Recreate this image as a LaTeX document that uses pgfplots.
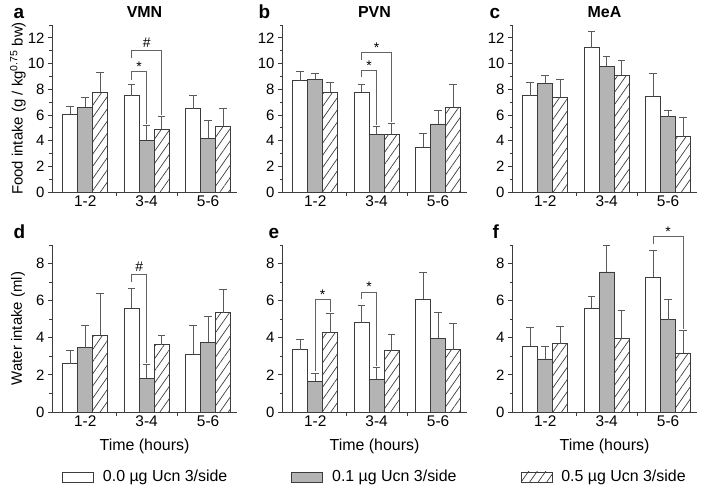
\documentclass[border=0pt]{standalone}
\usepackage{fontspec}
\setmainfont{Liberation Sans}
\usepackage{pgfplots}
\pgfplotsset{compat=1.18}
\usepackage{pgfplotstable}
\usetikzlibrary{patterns.meta}

\definecolor{edge}{RGB}{60,60,60}
\definecolor{barfill}{RGB}{180,180,180}
\definecolor{errc}{RGB}{90,90,90}
\definecolor{brk}{RGB}{100,100,100}

% mean and upper error (SEM) per time bin; w = 0.0, g = 0.1, h = 0.5 ug
\pgfplotstableread{
x w we g ge h he
1 6.05 0.65 6.60 0.78 7.77 1.57
2 7.49 0.91 4.04 1.16 4.88 1.02
3 6.50 0.99 4.17 1.43 5.14 1.36
}\vmnfood
\pgfplotstableread{
x w we g ge h he
1 8.66 0.73 8.79 0.41 7.77 0.76
2 7.77 0.63 4.49 0.65 4.49 0.86
3 3.47 1.10 5.30 1.07 6.60 1.80
}\pvnfood
\pgfplotstableread{
x w we g ge h he
1 7.49 1.04 8.48 0.60 7.36 1.43
2 11.22 1.30 9.78 0.79 9.08 1.15
3 7.44 1.77 5.87 0.52 4.30 1.49
}\meafood
\pgfplotstableread{
x w we g ge h he
1 2.61 0.72 3.47 1.19 4.14 2.24
2 5.58 1.06 1.83 0.74 3.63 0.51
3 3.13 1.53 3.76 1.37 5.36 1.24
}\vmnwater
\pgfplotstableread{
x w we g ge h he
1 3.36 0.56 1.65 0.45 4.28 1.03
2 4.82 0.94 1.76 0.67 3.31 0.88
3 6.08 1.47 3.97 1.41 3.36 1.42
}\pvnwater
\pgfplotstableread{
x w we g ge h he
1 3.56 0.99 2.86 0.65 3.69 0.95
2 5.58 0.66 7.55 1.41 3.96 1.54
3 7.28 1.44 4.98 1.08 3.18 1.22
}\meawater

\pgfplotsset{
  panel/.style={
    scale only axis, width=185bp, height=167bp,
    anchor=south west,
    ybar=0pt, bar width=0.244,
    xmin=0.46, xmax=3.47, ymin=0,
    axis x line*=bottom, axis y line*=left,
    axis line style={edge, line width=0.9bp},
    tick align=outside,
    xtick={1.5,2.5}, xticklabels={},
    extra x ticks={1,2,3}, extra x tick labels={1-2,3-4,5-6},
    extra x tick style={major tick length=0pt,
      tick label style={font=\fontsize{15.5}{16}\selectfont}},
    major tick length=4bp, minor tick length=2.5bp,
    tick style={edge, line width=0.8bp},
    yticklabel style={font=\fontsize{15}{15}\selectfont},
    /pgf/number format/assume math mode=true,
    clip=false,
    title style={font=\bfseries\fontsize{16}{16}\selectfont,
      at={(axis description cs:0.5,1.042)}, anchor=center},
    ylabel style={font=\fontsize{15}{15}\selectfont,
      at={(axis description cs:-0.184,0.5)}, anchor=center},
    xlabel style={font=\fontsize{16}{16}\selectfont,
      at={(axis description cs:0.5,-0.204)}, anchor=center},
    every axis plot post/.append style={
      legend image code/.code={\draw[##1] (0bp,-5bp) rectangle (31bp,5bp);}},
  },
  toprow/.style={ymax=13, ytick={0,2,...,12}, minor ytick={1,3,...,13}},
  botrow/.style={ymax=9, ytick={0,2,...,8}, minor ytick={1,3,...,9},
    xlabel={Time (hours)}},
  errs/.style={error bars/.cd, y dir=plus, y explicit,
    error bar style={errc, line width=0.8bp},
    error mark options={rotate=90, errc, mark size=3.8bp, line width=0.8bp}},
  wbar/.style={fill=white, draw=edge, line width=0.8bp, errs},
  gbar/.style={fill=barfill, draw=edge, line width=0.8bp, errs},
  hbar/.style={pattern={Lines[angle=55,distance=7bp,line width=0.7bp]},
    pattern color=edge, draw=edge, line width=0.8bp, errs},
}
\newcommand{\plab}[2]{\node[font=\bfseries\fontsize{19}{19}\selectfont, anchor=base west]
  at (axis description cs:#1,1.036) {#2};}
\newcommand{\sig}[2]{\node[font=\fontsize{14}{14}\selectfont, anchor=base, inner sep=0pt] at (axis cs:#1) {#2};}

\begin{document}
\begin{tikzpicture}
\useasboundingbox (0,0) rectangle (703bp,-494bp);

% ---- food intake ----
\begin{axis}[panel, toprow, at={(52bp,-192bp)}, title={VMN},
  ylabel={Food intake (g / kg\textsuperscript{0.75} bw)}]
\addplot[wbar] table[x=x, y=w, y error=we] {\vmnfood};
\addplot[gbar] table[x=x, y=g, y error=ge] {\vmnfood};
\addplot[hbar] table[x=x, y=h, y error=he] {\vmnfood};
\plab{-0.227}{a}
\draw[brk, line width=0.8bp] (axis cs:1.756,8.75) |- (axis cs:2,9.4) -- (axis cs:2,5.3);
\draw[brk, line width=0.8bp] (axis cs:1.756,10.4) |- (axis cs:2.244,11.0) -- (axis cs:2.244,6.0);
\sig{1.878,9.4}{*}
\node[font=\fontsize{14}{14}\selectfont, anchor=base, inner sep=0pt, yshift=3bp] at (axis cs:2,11.0) {\#};
\end{axis}

\begin{axis}[panel, toprow, at={(282bp,-192bp)}, title={PVN}]
\addplot[wbar] table[x=x, y=w, y error=we] {\pvnfood};
\addplot[gbar] table[x=x, y=g, y error=ge] {\pvnfood};
\addplot[hbar] table[x=x, y=h, y error=he] {\pvnfood};
\plab{-0.146}{b}
\draw[brk, line width=0.8bp] (axis cs:1.756,8.95) |- (axis cs:2,9.44) -- (axis cs:2,5.2);
\draw[brk, line width=0.8bp] (axis cs:1.756,10.3) |- (axis cs:2.244,10.83) -- (axis cs:2.244,5.45);
\sig{1.878,9.44}{*}
\sig{2,10.83}{*}
\end{axis}

\begin{axis}[panel, toprow, at={(512bp,-192bp)}, title={MeA}]
\addplot[wbar] table[x=x, y=w, y error=we] {\meafood};
\addplot[gbar] table[x=x, y=g, y error=ge] {\meafood};
\addplot[hbar] table[x=x, y=h, y error=he] {\meafood};
\plab{-0.14}{c}
\end{axis}

% ---- water intake ----
\begin{axis}[panel, botrow, at={(52bp,-412bp)},
  ylabel={Water intake (ml)},
  legend columns=3,
  legend style={draw=none, fill=none, inner sep=0pt,
    at={(axis description cs:0.054,-0.389)}, anchor=west,
    font=\fontsize{16}{16}\selectfont,
    /tikz/every odd column/.append style={column sep=7bp},
    /tikz/every even column/.append style={column sep=62bp}}]
\addplot[wbar] table[x=x, y=w, y error=we] {\vmnwater};
\addplot[gbar] table[x=x, y=g, y error=ge] {\vmnwater};
\addplot[hbar] table[x=x, y=h, y error=he] {\vmnwater};
\legend{0.0 µg Ucn 3/side, 0.1 µg Ucn 3/side, 0.5 µg Ucn 3/side}
\plab{-0.227}{d}
\draw[brk, line width=0.8bp] (axis cs:1.756,7.0) |- (axis cs:2,7.41) -- (axis cs:2,2.65);
\node[font=\fontsize{14}{14}\selectfont, anchor=base, inner sep=0pt, yshift=3bp] at (axis cs:1.878,7.41) {\#};
\end{axis}

\begin{axis}[panel, botrow, at={(282bp,-412bp)}]
\addplot[wbar] table[x=x, y=w, y error=we] {\pvnwater};
\addplot[gbar] table[x=x, y=g, y error=ge] {\pvnwater};
\addplot[hbar] table[x=x, y=h, y error=he] {\pvnwater};
\plab{-0.092}{e}
\draw[brk, line width=0.8bp] (axis cs:1,2.2) |- (axis cs:1.244,6.08) -- (axis cs:1.244,5.4);
\draw[brk, line width=0.8bp] (axis cs:1.756,6.1) |- (axis cs:2,6.47) -- (axis cs:2,2.5);
\sig{1.122,6.08}{*}
\sig{1.878,6.47}{*}
\end{axis}

\begin{axis}[panel, botrow, at={(512bp,-412bp)}]
\addplot[wbar] table[x=x, y=w, y error=we] {\meawater};
\addplot[gbar] table[x=x, y=g, y error=ge] {\meawater};
\addplot[hbar] table[x=x, y=h, y error=he] {\meawater};
\plab{-0.124}{f}
\draw[brk, line width=0.8bp] (axis cs:2.756,9.08) |- (axis cs:3.244,9.45) -- (axis cs:3.244,4.45);
\sig{3,9.45}{*}
\end{axis}
\end{tikzpicture}
\end{document}
